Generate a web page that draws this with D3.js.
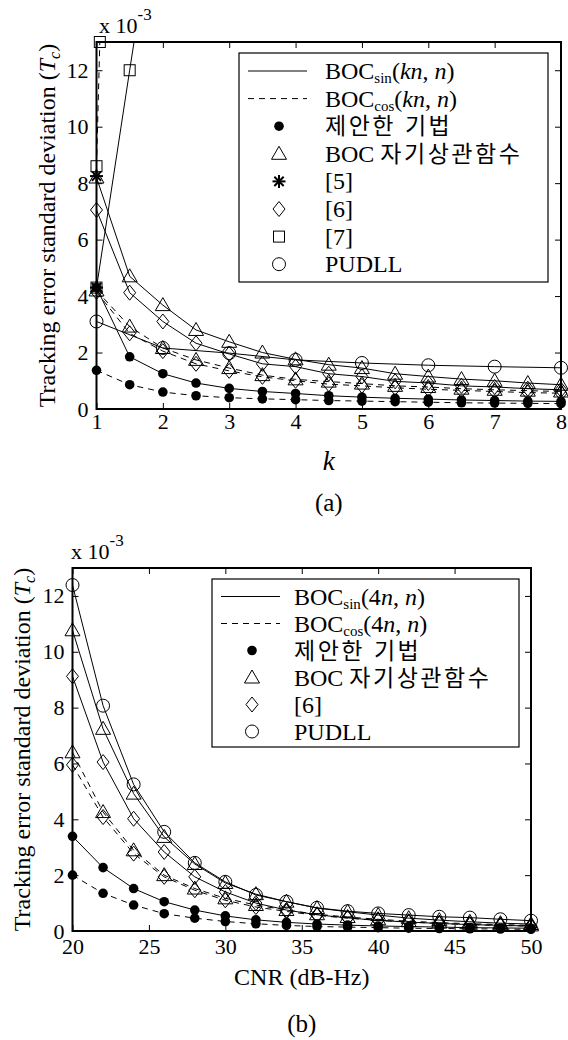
<!DOCTYPE html>
<html lang="ko">
<head>
<meta charset="utf-8">
<title>Tracking error standard deviation</title>
<script src="https://cdnjs.cloudflare.com/ajax/libs/d3/7.8.5/d3.min.js"></script>
<style>
  html, body { margin: 0; padding: 0; background: #fff; }
  svg { display: block; }
  text { font-family: "Liberation Serif", "Times New Roman", serif; fill: #000; }
  .kr { font-family: "Noto Sans CJK KR", sans-serif; }
</style>
</head>
<body>
<script>
// values are in units of 1e-3 chips (axis reads "x 10^-3")

// ---- panel (a): error vs k ----
const kSteps = [1, 1.5, 2, 2.5, 3, 3.5, 4, 4.5, 5, 5.5, 6, 6.5, 7, 7.5, 8];
const kWhole = [1, 2, 3, 4, 5, 6, 7, 8];
const propSinA = [4.3, 1.85, 1.25, 0.92, 0.73, 0.62, 0.55, 0.47, 0.42, 0.38, 0.35, 0.32, 0.30, 0.28, 0.27];
const propCosA = [1.37, 0.86, 0.60, 0.47, 0.40, 0.36, 0.33, 0.30, 0.28, 0.26, 0.24, 0.22, 0.21, 0.20, 0.19];
const autoSinA = [8.2, 4.7, 3.68, 2.80, 2.38, 2.00, 1.76, 1.57, 1.45, 1.25, 1.15, 1.06, 1.00, 0.92, 0.86];
const autoCosA = [4.2, 2.92, 2.16, 1.74, 1.45, 1.20, 1.05, 0.97, 0.90, 0.82, 0.78, 0.72, 0.68, 0.65, 0.62];
const ref6SinA = [7.05, 4.12, 3.10, 2.33, 1.95, 1.60, 1.50, 1.25, 1.15, 0.98, 0.92, 0.82, 0.78, 0.72, 0.68];
const ref6CosA = [4.15, 2.68, 2.05, 1.60, 1.35, 1.14, 1.00, 0.88, 0.82, 0.75, 0.70, 0.66, 0.62, 0.58, 0.56];
const pudllSinA = [3.1, 2.16, 1.98, 1.74, 1.63, 1.55, 1.50, 1.46];
const ref5K = [1];
const ref5SinA = [8.25];
const ref5CosA = [4.3];
const ref7SinK = [1, 1.5, 2];
const ref7SinA = [4.3, 12.0, 19.6];
const ref7CosK = [1, 1.05];
const ref7CosA = [8.6, 13.0];

// ---- panel (b): error vs CNR ----
const cnr = [20, 22, 24, 26, 28, 30, 32, 34, 36, 38, 40, 42, 44, 46, 48, 50];
const propSinB = [3.39, 2.27, 1.52, 1.05, 0.75, 0.54, 0.40, 0.31, 0.25, 0.21, 0.18, 0.16, 0.14, 0.12, 0.11, 0.10];
const propCosB = [2.0, 1.35, 0.93, 0.62, 0.46, 0.34, 0.26, 0.20, 0.16, 0.14, 0.12, 0.10, 0.09, 0.08, 0.07, 0.06];
const autoSinB = [10.77, 7.24, 4.92, 3.37, 2.40, 1.72, 1.32, 1.05, 0.82, 0.69, 0.57, 0.46, 0.39, 0.33, 0.28, 0.25];
const autoCosB = [6.40, 4.26, 2.89, 2.00, 1.52, 1.17, 0.93, 0.75, 0.60, 0.50, 0.42, 0.35, 0.30, 0.26, 0.23, 0.20];
const ref6SinB = [9.12, 6.05, 4.02, 2.83, 1.94, 1.40, 1.00, 0.75, 0.58, 0.47, 0.38, 0.32, 0.27, 0.23, 0.20, 0.18];
const ref6CosB = [5.95, 4.08, 2.77, 1.94, 1.46, 1.10, 0.86, 0.70, 0.56, 0.46, 0.38, 0.32, 0.27, 0.23, 0.20, 0.17];
const pudllSinB = [12.39, 8.07, 5.25, 3.55, 2.44, 1.76, 1.29, 1.05, 0.83, 0.71, 0.63, 0.57, 0.51, 0.48, 0.42, 0.37];

const yTicks = [0, 2, 4, 6, 8, 10, 12];
const xTicksA = [1, 2, 3, 4, 5, 6, 7, 8];
const xTicksB = [20, 25, 30, 35, 40, 45, 50];

const W = 568, H = 1040;
const svg = d3.select("body").append("svg")
    .attr("width", W)
    .attr("height", H);

function drawMarker(g, type, cx, cy) {
    if (type === "dot") {
        g.append("circle").attr("cx", cx).attr("cy", cy).attr("r", 4.8).attr("fill", "#000");
    } else if (type === "circle") {
        g.append("circle").attr("cx", cx).attr("cy", cy).attr("r", 6.5)
            .attr("fill", "none").attr("stroke", "#000");
    } else if (type === "triangle") {
        g.append("path").attr("d", `M${cx},${cy - 7.5}L${cx + 7.5},${cy + 5.5}L${cx - 7.5},${cy + 5.5}Z`)
            .attr("fill", "none").attr("stroke", "#000");
    } else if (type === "diamond") {
        g.append("path").attr("d", `M${cx},${cy - 7.5}L${cx + 6},${cy}L${cx},${cy + 7.5}L${cx - 6},${cy}Z`)
            .attr("fill", "none").attr("stroke", "#000");
    } else if (type === "square") {
        g.append("rect").attr("x", cx - 5.5).attr("y", cy - 5.5).attr("width", 11).attr("height", 11)
            .attr("fill", "none").attr("stroke", "#000");
    } else if (type === "star") {
        const s = 6.5;
        [[s, 0], [0, s], [s * 0.72, s * 0.72], [s * 0.72, -s * 0.72]].forEach(function(d) {
            g.append("line").attr("x1", cx - d[0]).attr("y1", cy - d[1])
                .attr("x2", cx + d[0]).attr("y2", cy + d[1])
                .attr("stroke", "#000").attr("stroke-width", 2);
        });
    }
}

// BOC_sub(pre n, n) label
function bocLabel(t, sub, pre) {
    t.append("tspan").text("BOC");
    t.append("tspan").attr("dy", 4).attr("font-size", "15px").text(sub);
    t.append("tspan").attr("dy", -4).text("(" + pre);
    t.append("tspan").attr("font-style", "italic").text(pre === "" ? "kn" : "n");
    t.append("tspan").text(", ");
    t.append("tspan").attr("font-style", "italic").text("n");
    t.append("tspan").text(")");
}

function drawPanel(cfg) {
    const x = d3.scaleLinear().domain(cfg.xDomain).range([cfg.left, cfg.right]);
    const y = d3.scaleLinear().domain([0, 13]).range([cfg.bottom, cfg.top]);
    const fmt = d3.format("d");

    svg.append("clipPath").attr("id", cfg.id)
        .append("rect")
        .attr("x", cfg.left).attr("y", cfg.top)
        .attr("width", cfg.right - cfg.left).attr("height", cfg.bottom - cfg.top);

    // ticks on all four sides, pointing inward
    const gl = svg.append("g").attr("transform", `translate(${cfg.left},0)`)
        .call(d3.axisLeft(y).tickValues(yTicks).tickFormat(fmt).tickSizeInner(-6).tickSizeOuter(0).tickPadding(8));
    const gr = svg.append("g").attr("transform", `translate(${cfg.right},0)`)
        .call(d3.axisRight(y).tickValues(yTicks).tickSizeInner(-6).tickSizeOuter(0).tickFormat(""));
    const gb = svg.append("g").attr("transform", `translate(0,${cfg.bottom})`)
        .call(d3.axisBottom(x).tickValues(cfg.xTicks).tickFormat(fmt).tickSizeInner(-6).tickSizeOuter(0).tickPadding(cfg.xPad));
    const gt = svg.append("g").attr("transform", `translate(0,${cfg.top})`)
        .call(d3.axisTop(x).tickValues(cfg.xTicks).tickSizeInner(-6).tickSizeOuter(0).tickFormat(""));
    [gl, gr, gb, gt].forEach(function(g) {
        g.select(".domain").remove();
        g.selectAll("line").attr("stroke", "#000");
        g.selectAll("text").attr("font-family", "Liberation Serif").attr("font-size", "22px").attr("fill", "#000");
    });

    const plot = svg.append("g");
    const lines = plot.append("g").attr("clip-path", `url(#${cfg.id})`);
    const marks = plot.append("g");
    const line = d3.line().x(function(d) { return x(d[0]); }).y(function(d) { return y(d[1]); });

    cfg.series.forEach(function(s) {
        const pts = s.x.map(function(v, i) { return [v, s.y[i]]; });
        if (!s.noLine) {
            lines.append("path").datum(pts)
                .attr("d", line)
                .attr("fill", "none")
                .attr("stroke", "#000")
                .attr("stroke-width", 1)
                .attr("stroke-dasharray", s.dash ? "6,5" : null);
        }
        pts.filter(function(d) { return d[1] <= 13.05; }).forEach(function(d) {
            drawMarker(marks, s.marker, x(d[0]), y(d[1]));
        });
    });

    // axes box
    svg.append("rect")
        .attr("x", cfg.left).attr("y", cfg.top)
        .attr("width", cfg.right - cfg.left).attr("height", cfg.bottom - cfg.top)
        .attr("fill", "none").attr("stroke", "#000").attr("stroke-width", 2);

    // exponent label
    const ex = svg.append("text").attr("x", cfg.expX).attr("y", cfg.top - 9).attr("font-size", "22px");
    ex.append("tspan").text("x 10");
    ex.append("tspan").attr("dy", -13).attr("font-size", "17px").text("-3");

    // y label
    const yl = svg.append("text")
        .attr("transform", `translate(${cfg.yLabelX},${(cfg.top + cfg.bottom) / 2}) rotate(-90)`)
        .attr("text-anchor", "middle").attr("font-size", "24px");
    yl.append("tspan").text("Tracking error standard deviation (");
    yl.append("tspan").attr("font-style", "italic").text("T");
    yl.append("tspan").attr("font-style", "italic").attr("dy", 5).attr("font-size", "16px").text("c");
    yl.append("tspan").attr("dy", -5).text(")");

    // x label and caption
    const cx = (cfg.left + cfg.right) / 2;
    svg.append("text").attr("x", cx).attr("y", cfg.xLabelY).attr("text-anchor", "middle")
        .attr("font-size", cfg.xLabelSize).attr("font-style", cfg.xLabelItalic ? "italic" : null)
        .text(cfg.xLabel);
    svg.append("text").attr("x", cx).attr("y", cfg.captionY).attr("text-anchor", "middle")
        .attr("font-size", "25px").text(cfg.caption);

    // legend
    const L = cfg.legend;
    const lg = svg.append("g");
    lg.append("rect").attr("x", L.x).attr("y", L.y).attr("width", L.w).attr("height", L.h)
        .attr("fill", "#fff").attr("stroke", "#000").attr("stroke-width", 1.2);
    L.items.forEach(function(it, i) {
        const ry = L.y + L.first + i * L.step;
        if (it.line) {
            lg.append("line").attr("x1", L.x + 9).attr("x2", L.x + 68).attr("y1", ry).attr("y2", ry)
                .attr("stroke", "#000").attr("stroke-dasharray", it.line === "dash" ? "6,5" : null);
        } else {
            drawMarker(lg, it.marker, L.x + 40, ry);
        }
        const t = lg.append("text").attr("x", L.x + L.textDx).attr("y", ry + 8).attr("font-size", "24px");
        if (it.boc) {
            bocLabel(t, it.boc, L.pre);
        } else if (it.kr) {
            if (it.pre) t.append("tspan").text(it.pre);
            t.append("tspan").attr("class", "kr").attr("font-size", "23px")
                .attr("letter-spacing", "2.5px").text(it.kr);
        } else {
            t.text(it.label);
        }
    });
}

drawPanel({
    id: "clipA",
    left: 96.5, right: 561, top: 42, bottom: 409,
    xDomain: [1, 8], xTicks: xTicksA, xPad: 4,
    expX: 99, yLabelX: 55,
    xLabel: "k", xLabelItalic: true, xLabelSize: "27px", xLabelY: 470,
    caption: "(a)", captionY: 511,
    series: [
        { x: kSteps, y: propSinA, marker: "dot" },
        { x: kSteps, y: propCosA, marker: "dot", dash: true },
        { x: kSteps, y: autoSinA, marker: "triangle" },
        { x: kSteps, y: autoCosA, marker: "triangle", dash: true },
        { x: kSteps, y: ref6SinA, marker: "diamond" },
        { x: kSteps, y: ref6CosA, marker: "diamond", dash: true },
        { x: kWhole, y: pudllSinA, marker: "circle" },
        { x: ref7SinK, y: ref7SinA, marker: "square" },
        { x: ref7CosK, y: ref7CosA, marker: "square", dash: true },
        { x: ref5K, y: ref5SinA, marker: "star", noLine: true },
        { x: ref5K, y: ref5CosA, marker: "star", noLine: true }
    ],
    legend: {
        x: 239, y: 53, w: 309, h: 229, first: 18, step: 27.6, pre: "", textDx: 86,
        items: [
            { line: "solid", boc: "sin" },
            { line: "dash", boc: "cos" },
            { marker: "dot", kr: "제안한 기법" },
            { marker: "triangle", pre: "BOC ", kr: "자기상관함수" },
            { marker: "star", label: "[5]" },
            { marker: "diamond", label: "[6]" },
            { marker: "square", label: "[7]" },
            { marker: "circle", label: "PUDLL" }
        ]
    }
});

drawPanel({
    id: "clipB",
    left: 72.5, right: 531, top: 568, bottom: 931,
    xDomain: [20, 50], xTicks: xTicksB, xPad: 7,
    expX: 71, yLabelX: 30,
    xLabel: "CNR (dB-Hz)", xLabelItalic: false, xLabelSize: "24px", xLabelY: 985,
    caption: "(b)", captionY: 1032,
    series: [
        { x: cnr, y: propSinB, marker: "dot" },
        { x: cnr, y: propCosB, marker: "dot", dash: true },
        { x: cnr, y: autoSinB, marker: "triangle" },
        { x: cnr, y: autoCosB, marker: "triangle", dash: true },
        { x: cnr, y: ref6SinB, marker: "diamond" },
        { x: cnr, y: ref6CosB, marker: "diamond", dash: true },
        { x: cnr, y: pudllSinB, marker: "circle" }
    ],
    legend: {
        x: 212, y: 579, w: 307, h: 168, first: 17.5, step: 27, pre: "4", textDx: 82,
        items: [
            { line: "solid", boc: "sin" },
            { line: "dash", boc: "cos" },
            { marker: "dot", kr: "제안한 기법" },
            { marker: "triangle", pre: "BOC ", kr: "자기상관함수" },
            { marker: "diamond", label: "[6]" },
            { marker: "circle", label: "PUDLL" }
        ]
    }
});
</script>
</body>
</html>
